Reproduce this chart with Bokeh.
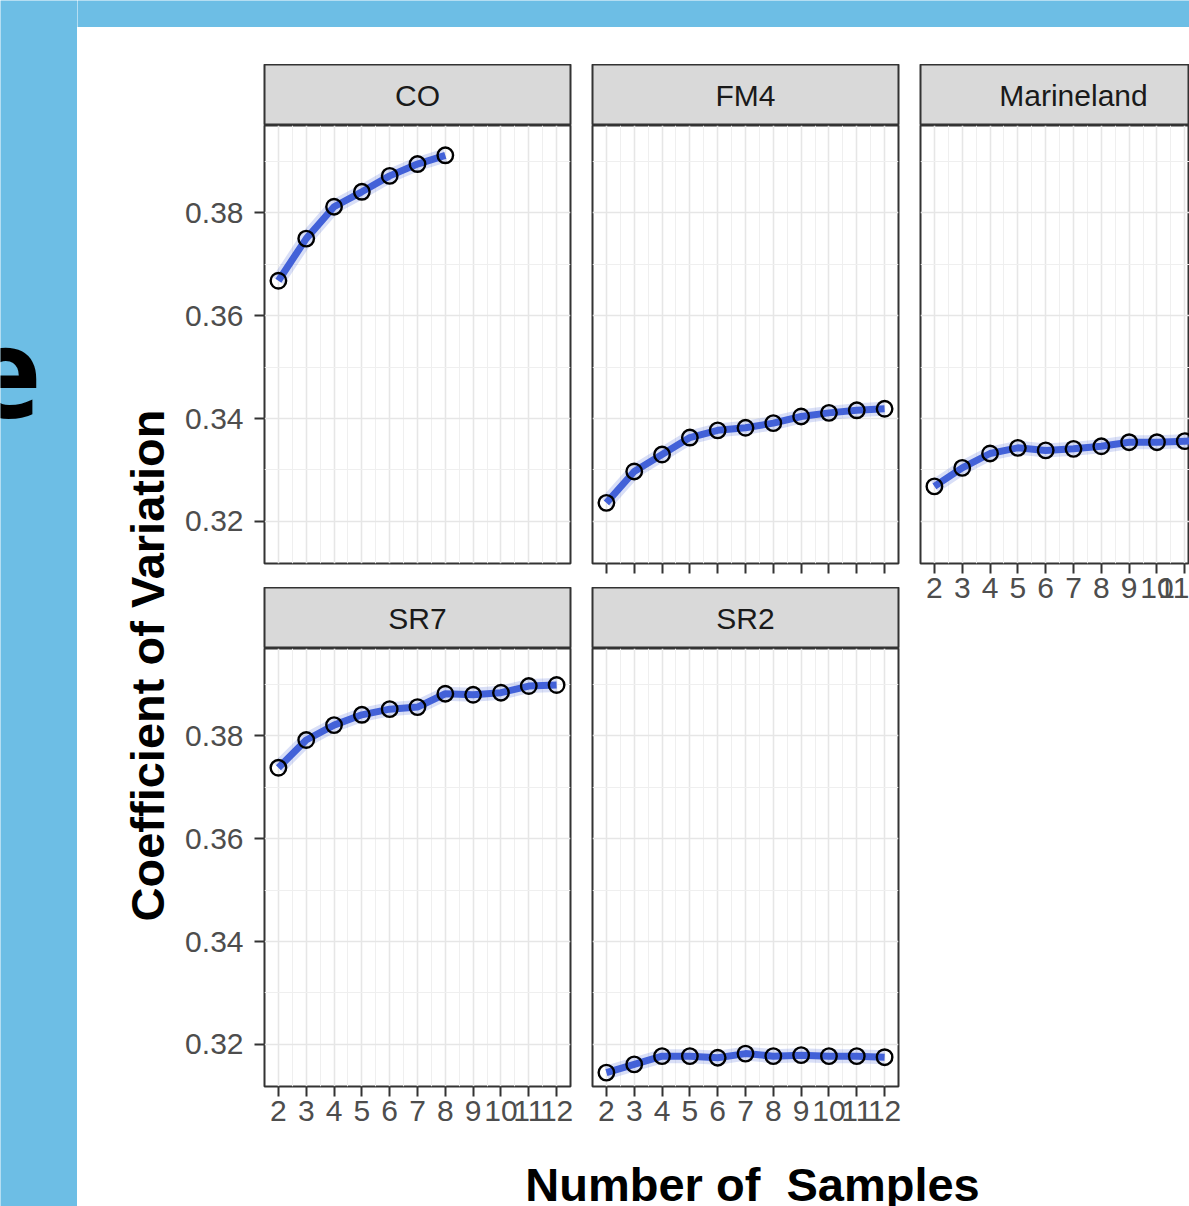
import numpy as np
from bokeh.plotting import figure
from bokeh.layouts import row, column
from bokeh.models import (Range1d, Label, LinearAxis, FixedTicker, Grid,
                          PrintfTickFormatter, Spacer)
from bokeh.embed import file_html
from bokeh.resources import INLINE

# ---------------- data ----------------
samples = [2, 3, 4, 5, 6, 7, 8, 9, 10, 11, 12]
cv_CO = [0.3668, 0.3750, 0.3812, 0.3841, 0.3872, 0.3895, 0.3912]
cv_FM4 = [0.3236, 0.3297, 0.3330, 0.3363, 0.3377, 0.3382, 0.3391, 0.3404, 0.3411, 0.3416, 0.3419]
cv_Marineland = [0.3268, 0.3304, 0.3332, 0.3343, 0.3338, 0.3341, 0.3346, 0.3354, 0.3354, 0.3356, 0.3357]
cv_SR7 = [0.3738, 0.3792, 0.3821, 0.3841, 0.3852, 0.3856, 0.3882, 0.3880, 0.3884, 0.3897, 0.3899]
cv_SR2 = [0.3145, 0.3161, 0.3177, 0.3177, 0.3174, 0.3182, 0.3177, 0.3179, 0.3177, 0.3177, 0.3175]

x_ticks = [2, 3, 4, 5, 6, 7, 8, 9, 10, 11, 12]
y_ticks = [0.32, 0.34, 0.36, 0.38]
x_minor = [t - 0.5 for t in x_ticks] + [12.5]
y_minor = [0.33, 0.35, 0.37, 0.39]

BLUE_BG = "#6DBEE5"
LINE_BLUE = "#4261D8"
FONT = "Liberation Sans"

X_START, X_END = 1.5, 12.5
Y_START, Y_END = 0.3118, 0.3970
FRAME_W, FRAME_H = 306, 438


def no_grid(p):
    p.grid.visible = False
    p.grid.grid_line_color = None
    p.grid.minor_grid_line_color = None


def deco(w, h, bg):
    p = figure(width=w, height=h, x_range=Range1d(0, w), y_range=Range1d(0, h),
               x_axis_location=None, y_axis_location=None, title_location=None,
               toolbar_location=None, tools="", min_border=0, output_backend="svg",
               background_fill_color=bg, border_fill_color=bg, outline_line_color=None)
    no_grid(p)
    return p


def strip(text, colw, left, right, frame_w):
    p = figure(width=colw, height=61, x_range=Range1d(0, frame_w), y_range=Range1d(0, 61),
               x_axis_location=None, y_axis_location=None, title_location=None,
               toolbar_location=None, tools="", output_backend="svg",
               min_border_left=left, min_border_right=right, min_border_top=0, min_border_bottom=0,
               background_fill_color="#d9d9d9", border_fill_color="white",
               outline_line_color="#333333", outline_line_width=2)
    no_grid(p)
    p.add_layout(Label(x=FRAME_W / 2, y=30, text=text, text_align="center",
                       text_baseline="middle", text_font=FONT, text_font_size="30px",
                       text_color="#1a1a1a"))
    return p


def panel(xs, ys, left, right, bottom, frame_w, ylabels=False, xticks=False, xlabels=False):
    x_end = X_START + (X_END - X_START) * frame_w / FRAME_W
    p = figure(frame_width=frame_w, frame_height=FRAME_H,
               x_range=Range1d(X_START, x_end), y_range=Range1d(Y_START, Y_END),
               x_axis_location=None, y_axis_location=None, title_location=None,
               toolbar_location=None, tools="", output_backend="svg",
               min_border_left=left, min_border_right=right, min_border_top=0,
               min_border_bottom=bottom, background_fill_color="white",
               border_fill_color="white", outline_line_color="#333333",
               outline_line_width=2)
    no_grid(p)
    p.add_layout(Grid(dimension=0, ticker=FixedTicker(ticks=x_ticks, minor_ticks=x_minor),
                      grid_line_color="#e6e6e6", grid_line_width=1.6,
                      minor_grid_line_color="#efefef", minor_grid_line_width=1))
    p.add_layout(Grid(dimension=1, ticker=FixedTicker(ticks=y_ticks, minor_ticks=y_minor),
                      grid_line_color="#e6e6e6", grid_line_width=1.6,
                      minor_grid_line_color="#efefef", minor_grid_line_width=1))
    if ylabels:
        ax = LinearAxis(ticker=FixedTicker(ticks=y_ticks), formatter=PrintfTickFormatter(format="%.2f"),
                        axis_line_color=None, major_tick_line_color="#333333",
                        major_tick_line_width=2, major_tick_in=0, major_tick_out=10,
                        minor_tick_line_color=None, major_label_text_font=FONT,
                        major_label_text_font_size="30px", major_label_text_color="#4d4d4d",
                        major_label_standoff=11)
        p.add_layout(ax, "left")
    if xticks:
        ax = LinearAxis(ticker=FixedTicker(ticks=x_ticks), formatter=PrintfTickFormatter(format="%d"),
                        axis_line_color=None, major_tick_line_color="#333333",
                        major_tick_line_width=2, major_tick_in=0, major_tick_out=10,
                        minor_tick_line_color=None, major_label_text_font=FONT,
                        major_label_text_font_size="30px" if xlabels else "1px",
                        major_label_text_color="#4d4d4d" if xlabels else None,
                        major_label_standoff=4 if xlabels else 0)
        p.add_layout(ax, "below")
    p.line(xs, ys, line_width=14, color=LINE_BLUE, alpha=0.2)
    p.line(xs, ys, line_width=7, color=LINE_BLUE)
    p.scatter(xs, ys, size=15.5, line_color="black", line_width=2.4, fill_color=None)
    return p


# ---------------- columns of facets ----------------
col1 = column(
    Spacer(width=406, height=37),
    strip("CO", 406, 89, 11, FRAME_W),
    panel(samples[:len(cv_CO)], cv_CO, 89, 11, 24, FRAME_W, ylabels=True),
    strip("SR7", 406, 89, 11, FRAME_W),
    panel(samples, cv_SR7, 89, 11, 59, FRAME_W, ylabels=True, xticks=True, xlabels=True),
    spacing=0)

col2 = column(
    Spacer(width=328, height=37),
    strip("FM4", 328, 11, 11, FRAME_W),
    panel(samples, cv_FM4, 11, 11, 24, FRAME_W, xticks=True, xlabels=False),
    strip("SR2", 328, 11, 11, FRAME_W),
    panel(samples, cv_SR2, 11, 11, 59, FRAME_W, xticks=True, xlabels=True),
    spacing=0)

col3 = column(
    Spacer(width=280, height=37),
    strip("Marineland", 280, 11, 0, 269),
    panel(samples, cv_Marineland, 11, 0, 57, 269, xticks=True, xlabels=True),
    spacing=0)

ytitle = deco(98, 1118, "white")
ytitle.add_layout(Label(x=69.5, y=1118 - 638, text="Coefficient of Variation", angle=np.pi / 2,
                        text_align="center", text_baseline="alphabetic", text_font=FONT,
                        text_font_style="bold", text_font_size="47px", text_color="black"))

xtitle = deco(1112, 61, "white")
xtitle.add_layout(Label(x=675, y=22, text="Number of\u00a0 Samples", text_align="center",
                        text_baseline="alphabetic", text_font=FONT, text_font_style="bold",
                        text_font_size="47px", text_color="black"))

top_blue = deco(1112, 27, BLUE_BG)

left_blue = deco(77, 1206, BLUE_BG)
left_blue.add_layout(Label(x=41, y=1206 - 372, text="e", text_align="right",
                           text_baseline="alphabetic", text_font="Open Sans",
                           text_font_style="bold", text_font_size="125px", text_color="black"))

right_col = column(top_blue, row(ytitle, col1, col2, col3, spacing=0), xtitle, spacing=0)
root = row(left_blue, right_col, spacing=0)

open("out.html", "w").write(file_html(root, INLINE, title="Coefficient of Variation"))
